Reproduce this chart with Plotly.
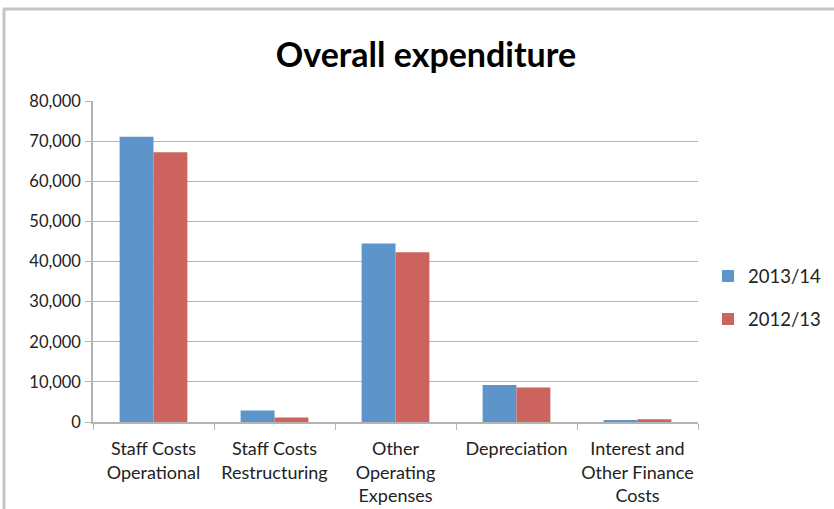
import plotly.graph_objects as go

categories = [
    "Staff Costs<br>Operational",
    "Staff Costs<br>Restructuring",
    "Other<br>Operating<br>Expenses",
    "Depreciation",
    "Interest and<br>Other Finance<br>Costs",
]
values_2013_14 = [71100, 2850, 44500, 9200, 450]
values_2012_13 = [67200, 1100, 42300, 8600, 700]
y_ticks = [0, 10000, 20000, 30000, 40000, 50000, 60000, 70000, 80000]

BLUE = "#5D95CB"
RED = "#CD635E"
GRID = "#B4B4B4"
FONT = "Lato"

fig = go.Figure()
fig.add_trace(go.Bar(x=categories, y=values_2013_14, name="2013/14",
                     marker=dict(color=BLUE, line=dict(width=0)), legendgroup="a"))
fig.add_trace(go.Bar(x=categories, y=values_2012_13, name="2012/13",
                     marker=dict(color=RED, line=dict(width=0)), legendgroup="b"))

W, H = 834, 509
L, R, T, B = 93, 136, 101, 87
pw, ph = W - L - R, H - T - B

def px_x(x):
    return (x - L) / pw

def px_y(y):
    return (H - B - y) / ph

# outer frame: top and left edges
fig.add_shape(type="line", xref="paper", yref="paper",
              x0=px_x(3), x1=px_x(834), y0=px_y(9), y1=px_y(9),
              line=dict(color="#C9C3C3", width=3))
fig.add_shape(type="line", xref="paper", yref="paper",
              x0=px_x(4), x1=px_x(4), y0=px_y(9), y1=px_y(509),
              line=dict(color="#C9C3C3", width=3))

fig.update_layout(
    width=W, height=H,
    margin=dict(l=L, r=R, t=T, b=B, autoexpand=False),
    paper_bgcolor="white", plot_bgcolor="white",
    barmode="group", bargap=0.44, bargroupgap=0,
    font=dict(family=FONT, color="#222222", size=16),
    title=dict(text="<b>Overall expenditure</b>", x=px_x(426), xanchor="center",
               xref="paper", y=1 - 55 / H, yanchor="middle",
               font=dict(family=FONT, size=34, color="#000000")),
    legend=dict(x=px_x(708), y=px_y(298), xanchor="left", yanchor="middle",
                font=dict(family=FONT, size=18.5, color="#222222"),
                tracegroupgap=16, bgcolor="rgba(0,0,0,0)"),
    xaxis=dict(type="category", tickson="boundaries", ticks="outside",
               ticklen=6, tickcolor=GRID, showline=True, linecolor=GRID,
               linewidth=1.5, showgrid=False, tickfont=dict(size=18),
               tickangle=0, automargin=False, ticklabelstandoff=10),
    yaxis=dict(range=[0, 80000], tickvals=y_ticks, tickformat=",d",
               ticks="outside", ticklen=6, tickcolor=GRID, showline=True,
               linecolor=GRID, linewidth=1.5, showgrid=True, gridcolor=GRID,
               gridwidth=1, zeroline=False, tickfont=dict(size=16.5),
               automargin=False, ticklabelstandoff=1),
)

fig.write_html("out.html")
